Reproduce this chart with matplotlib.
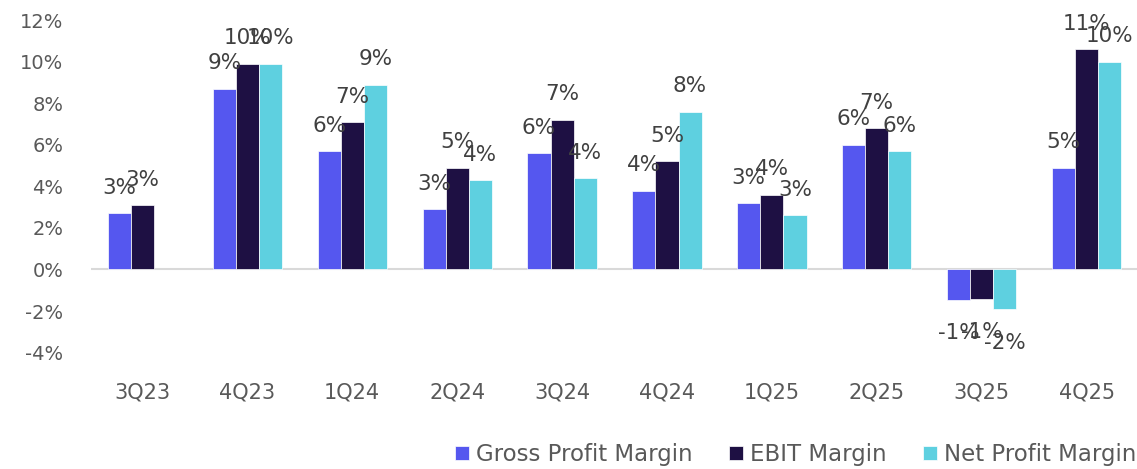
import matplotlib.pyplot as plt
import numpy as np

plt.rcParams['font.family'] = ['DejaVu Sans']

quarters = ['3Q23', '4Q23', '1Q24', '2Q24', '3Q24', '4Q24', '1Q25', '2Q25', '3Q25', '4Q25']
gross_margin = [2.7, 8.7, 5.7, 2.9, 5.6, 3.8, 3.2, 6.0, -1.45, 4.9]
ebit_margin = [3.1, 9.9, 7.1, 4.9, 7.2, 5.2, 3.6, 6.8, -1.4, 10.6]
net_margin = [np.nan, 9.9, 8.9, 4.3, 4.4, 7.6, 2.6, 5.7, -1.9, 10.0]

series = [
    ('Gross Profit Margin', gross_margin, '#5557ef'),
    ('EBIT Margin', ebit_margin, '#1e1043'),
    ('Net Profit Margin', net_margin, '#5ed0e0'),
]

fig = plt.figure(figsize=(11.37, 4.69), dpi=100)
ax = fig.add_axes([0.08, 0.235, 0.92, 0.722])

x = np.arange(len(quarters))
width = 0.22
for i, (name, vals, color) in enumerate(series):
    pos = x + (i - 1) * width
    ax.bar(pos, vals, width, color=color, label=name, edgecolor='white', linewidth=0.5)
    for p, v in zip(pos, vals):
        if np.isnan(v):
            continue
        txt = '{:.0f}%'.format(v)
        if v >= 0:
            ax.annotate(txt, (p, v), xytext=(0, 14), textcoords='offset points',
                        ha='center', va='baseline', fontsize=15.5, color='#404040')
        else:
            ax.annotate(txt, (p, v), xytext=(0, -17), textcoords='offset points',
                        ha='center', va='top', fontsize=15.5, color='#404040')

ax.axhline(0, color='#d9d9d9', linewidth=1.5, zorder=0)
ax.set_xlim(-0.49, 9.48)
ax.set_ylim(-4.3, 12)
ax.set_yticks(np.arange(-4, 13, 2))
ax.set_yticklabels(['{:d}%'.format(t) for t in range(-4, 13, 2)])
ax.set_xticks(x)
ax.set_xticklabels(quarters)
ax.tick_params(axis='both', length=0, colors='#595959')
ax.tick_params(axis='x', pad=17, labelsize=15)
ax.tick_params(axis='y', pad=20, labelsize=14)
for s in ax.spines.values():
    s.set_visible(False)

ax.legend(loc='center right', bbox_to_anchor=(0.999, -0.283), ncol=3, frameon=False,
          fontsize=16.5, handlelength=0.6, handleheight=0.6, handletextpad=0.3,
          columnspacing=1.6, borderaxespad=0, borderpad=0, labelcolor='#595959')

fig.savefig('out.png', dpi=100)
